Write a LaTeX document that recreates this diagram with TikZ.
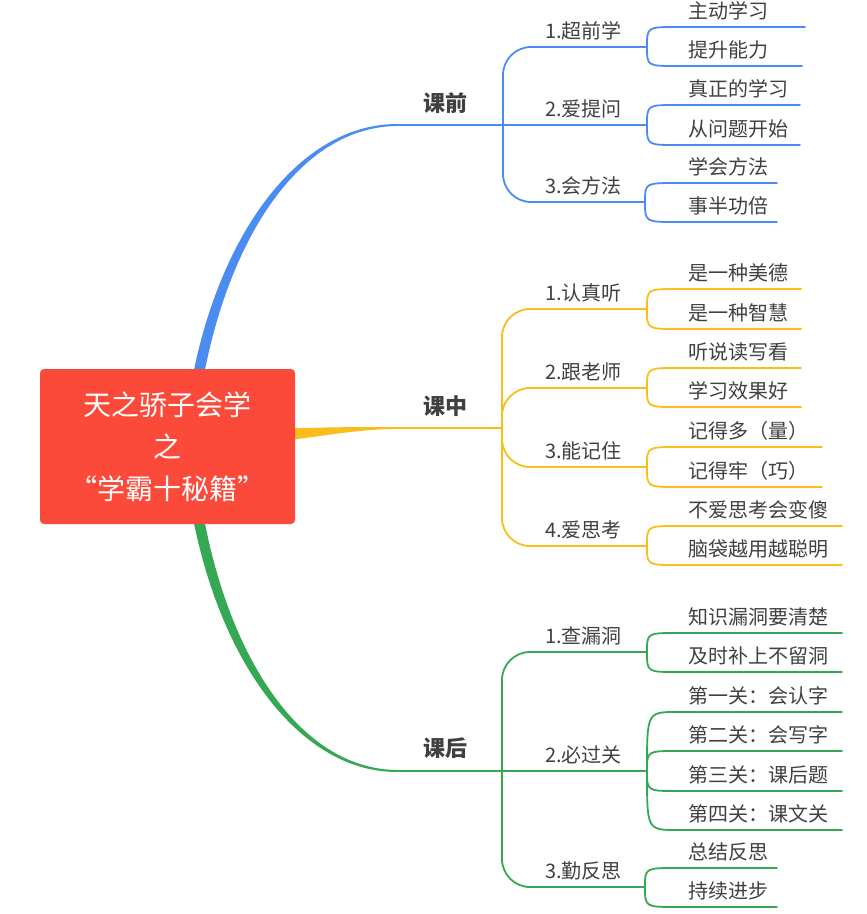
\documentclass[tikz,border=0pt]{standalone}
\usepackage{fontspec}
\setmainfont{Noto Sans CJK SC}
\definecolor{cblue}{HTML}{4A8CF0}
\definecolor{cyel}{HTML}{F9BE1A}
\definecolor{cgreen}{HTML}{34A853}
\definecolor{rootred}{HTML}{FB4A3A}
\definecolor{txt}{HTML}{404040}
\tikzset{
 rootbox/.style={fill=rootred, rounded corners=4pt, minimum width=255pt, minimum height=155pt, text=white, align=center, font=\fontsize{28}{42}\selectfont, inner sep=0pt},
 mainlbl/.style={text=txt, font=\fontsize{22}{26}\selectfont\bfseries, inner sep=0pt},
 sublbl/.style={text=txt, font=\fontsize{20}{24}\selectfont, anchor=west, inner sep=0pt},
 leaflbl/.style={sublbl},
 link/.style={line width=1.8pt, line cap=round},
 elbow/.style={link, rounded corners=28pt},
}
\newcommand\leafline[5]{%
 \coordinate (#2s) at (677,#3);
 \coordinate (#2e) at (#4,#3);
 \draw[link] (#1) .. controls (#1 |- #2s) .. (#2s) -- (#2e);
 \node[leaflbl] (#2t) at (688,#3-16.5) {#5};}
\begin{document}
\begin{tikzpicture}[x=1pt,y=-1pt]
\useasboundingbox (0,0) rectangle (867,914);

% ---------- blue branch ----------
\begin{scope}[cblue]
\coordinate (B) at (503,125);
\coordinate (Bs) at (397,125);
\fill[cblue] (192,380) .. controls (220,232) and (300,124) .. (397,124) -- (397,126) .. controls (300,127) and (229,238) .. (203,380) -- cycle;
\draw[link] (Bs) -- (B);
\node[mainlbl] (kq) at (445,103) {课前};
\coordinate (B1) at (647,47);
\coordinate (B2) at (647,125);
\coordinate (B3) at (645,202);
\draw[elbow] (B) |- (B1);
\draw[link] (B) -- (B2);
\draw[elbow] (B) |- (B3);
\node[sublbl] (Bt1) at (545,31) {1.超前学};
\node[sublbl] (Bt2) at (545,109) {2.爱提问};
\node[sublbl] (Bt3) at (545,186) {3.会方法};
\leafline{B1}{Ba}{27}{805}{主动学习}
\leafline{B1}{Bb}{66}{802}{提升能力}
\leafline{B2}{Bc}{105}{800}{真正的学习}
\leafline{B2}{Bd}{145}{800}{从问题开始}
\leafline{B3}{Be}{183}{777}{学会方法}
\leafline{B3}{Bf}{222}{777}{事半功倍}
\end{scope}

% ---------- yellow branch ----------
\begin{scope}[cyel]
\coordinate (Y) at (502,428);
\coordinate (Ys) at (400,428);
\fill[cyel] (290,428.5) .. controls (330,427) and (360,427) .. (400,427.1) -- (400,428.9) .. controls (360,429) and (330,435) .. (290,440) -- cycle;
\draw[link] (Ys) -- (Y);
\node[mainlbl] (kz) at (445,406) {课中};
\coordinate (Y1) at (647,309);
\coordinate (Y2) at (647,388);
\coordinate (Y3) at (647,467);
\coordinate (Y4) at (647,546);
\draw[elbow] (Y) |- (Y1);
\draw[elbow] (Y) |- (Y2);
\draw[elbow] (Y) |- (Y3);
\draw[elbow] (Y) |- (Y4);
\node[sublbl] (Yt1) at (545,293) {1.认真听};
\node[sublbl] (Yt2) at (545,372) {2.跟老师};
\node[sublbl] (Yt3) at (545,451) {3.能记住};
\node[sublbl] (Yt4) at (545,530) {4.爱思考};
\leafline{Y1}{Ya}{289}{801}{是一种美德}
\leafline{Y1}{Yb}{329}{801}{是一种智慧}
\leafline{Y2}{Yc}{368}{801}{听说读写看}
\leafline{Y2}{Yd}{407}{801}{学习效果好}
\leafline{Y3}{Ye}{447}{822}{记得多（量）}
\leafline{Y3}{Yf}{487}{822}{记得牢（巧）}
\leafline{Y4}{Yg}{526}{842}{不爱思考会变傻}
\leafline{Y4}{Yh}{565}{842}{脑袋越用越聪明}
\end{scope}

% ---------- green branch ----------
\begin{scope}[cgreen]
\coordinate (G) at (502,771);
\coordinate (Gs) at (397,771);
\fill[cgreen] (192,513) .. controls (220,663) and (300,772) .. (397,772) -- (397,770) .. controls (300,769) and (229,657) .. (203,513) -- cycle;
\draw[link] (Gs) -- (G);
\node[mainlbl] (kh) at (445,748) {课后};
\coordinate (G1) at (647,652);
\coordinate (G2) at (647,771);
\coordinate (G3) at (645,887);
\draw[elbow] (G) |- (G1);
\draw[link] (G) -- (G2);
\draw[elbow] (G) |- (G3);
\node[sublbl] (Gt1) at (545,636) {1.查漏洞};
\node[sublbl] (Gt2) at (545,755) {2.必过关};
\node[sublbl] (Gt3) at (545,871) {3.勤反思};
\leafline{G1}{Ga}{633}{842}{知识漏洞要清楚}
\leafline{G1}{Gb}{672}{842}{及时补上不留洞}
\leafline{G2}{Gc}{712}{842}{第一关：会认字}
\leafline{G2}{Gd}{751}{842}{第二关：会写字}
\leafline{G2}{Ge}{791}{842}{第三关：课后题}
\leafline{G2}{Gf}{830}{842}{第四关：课文关}
\leafline{G3}{Gg}{868}{777}{总结反思}
\leafline{G3}{Gh}{907}{777}{持续进步}
\end{scope}

% ---------- root ----------
\node[rootbox] (root) at (167.5,446.5) {天之骄子会学\\之\\“学霸十秘籍”};
\end{tikzpicture}
\end{document}
